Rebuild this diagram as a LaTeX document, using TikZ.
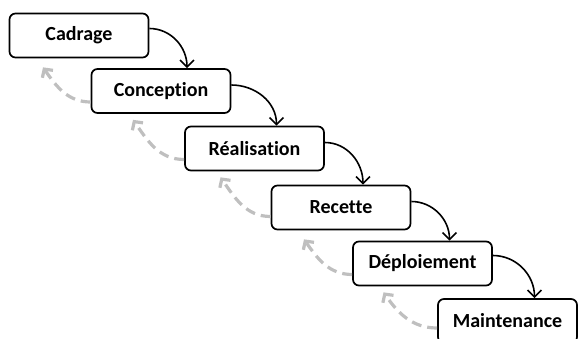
\documentclass[tikz,border=0pt]{standalone}
\usepackage{fontspec}
\setmainfont[Ligatures=NoCommon]{Carlito}
\usetikzlibrary{arrows.meta}

\begin{document}
\begin{tikzpicture}[x=1pt,y=-1pt]
\tikzstyle{phase}=[draw,line width=1.7pt,rounded corners=6pt,fill=white,minimum width=139pt,minimum height=44pt,font=\fontsize{20}{24}\selectfont\bfseries]
\tikzstyle{fwd}=[line width=1.6pt,-{Straight Barb[length=7pt,width=14pt]}]
\tikzstyle{back}=[line width=3.2pt,color=black!25,dash pattern=on 10pt off 6pt,-{Straight Barb[length=6pt,width=13pt]}]
\useasboundingbox (0,0) rectangle (579,338);
\node[phase] (v0) at (79,35.5) {Cadrage};
\node[phase] (v1) at (161,91) {Conception};
\node[phase] (v2) at (254.5,148.5) {Réalisation};
\node[phase] (v3) at (341,207.5) {Recette};
\node[phase] (v4) at (422.5,263.5) {Déploiement};
\node[phase] (v5) at (507.5,321) {Maintenance};
\draw[fwd] ([yshift=7pt]v0.east) to[out=0,in=90] ([xshift=26pt]v1.north);
\draw[fwd] ([yshift=6pt]v1.east) to[out=0,in=90] ([xshift=22pt]v2.north);
\draw[fwd] ([yshift=6pt]v2.east) to[out=0,in=90] ([xshift=22pt]v3.north);
\draw[fwd] ([yshift=6pt]v3.east) to[out=0,in=90] ([xshift=27pt]v4.north);
\draw[fwd] ([yshift=8pt]v4.east) to[out=0,in=90] ([xshift=27pt]v5.north);
\draw[back] ([yshift=-11pt]v1.west) to[out=180,in=-55] ([xshift=-36pt,yshift=-9pt]v0.south);
\draw[back] ([yshift=-11pt]v2.west) to[out=180,in=-55] ([xshift=-28pt,yshift=-6pt]v1.south);
\draw[back] ([yshift=-9pt]v3.west) to[out=180,in=-55] ([xshift=-34pt,yshift=-6pt]v2.south);
\draw[back] ([yshift=-11pt]v4.west) to[out=180,in=-55] ([xshift=-37pt,yshift=-9pt]v3.south);
\draw[back] ([yshift=-7pt]v5.west) to[out=180,in=-55] ([xshift=-39pt,yshift=-6pt]v4.south);
\end{tikzpicture}
\end{document}
